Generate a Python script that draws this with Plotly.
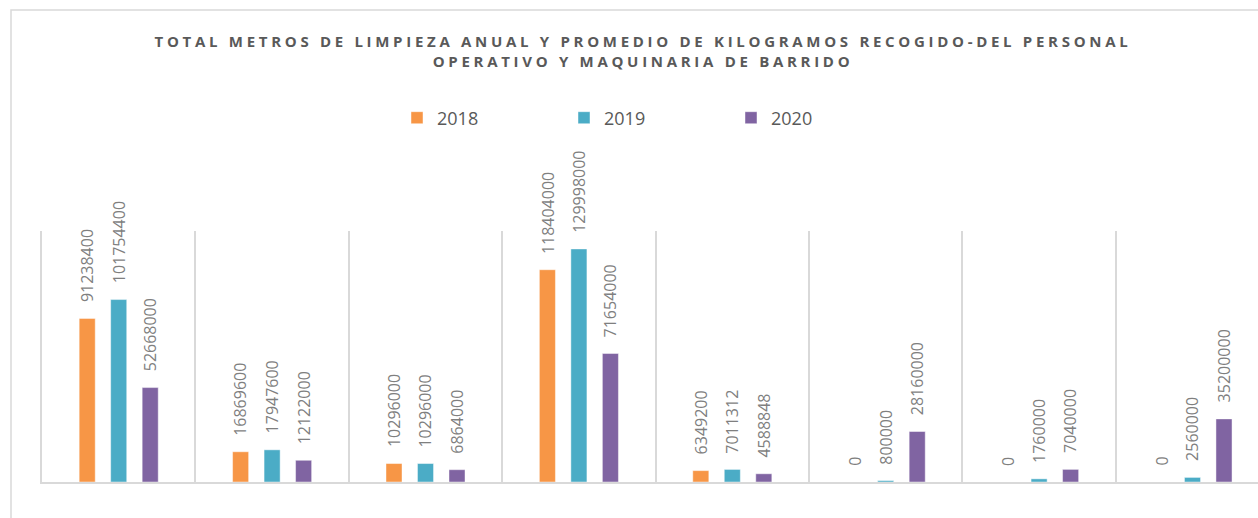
import plotly.graph_objects as go

categories = ["Cat 1", "Cat 2", "Cat 3", "Cat 4", "Cat 5", "Cat 6", "Cat 7", "Cat 8"]
series_names = ["2018", "2019", "2020"]
values_2018 = [91238400, 16869600, 10296000, 118404000, 6349200, 0, 0, 0]
values_2019 = [101754400, 17947600, 10296000, 129998000, 7011312, 800000, 1760000, 2560000]
values_2020 = [52668000, 12122000, 6864000, 71654000, 4588848, 28160000, 7040000, 35200000]
colors = ["#F79646", "#4BACC6", "#8064A2"]

title_text = ("TOTAL METROS DE LIMPIEZA ANUAL Y PROMEDIO DE KILOGRAMOS RECOGIDO-DEL PERSONAL"
              "<br>OPERATIVO Y MAQUINARIA DE BARRIDO")

W, H = 1258, 518
ML, MR, MT, MB = 42, 0, 231, 36
plot_w = W - ML - MR
plot_h = H - MT - MB

fig = go.Figure()
all_vals = [values_2018, values_2019, values_2020]
for name, vals, col in zip(series_names, all_vals, colors):
    fig.add_trace(go.Bar(
        x=categories, y=vals, name=name,
        marker=dict(color=col, line=dict(color="rgba(255,255,255,0.45)", width=1)),
    ))

annotations = []
offsets = [-31.5, 0, 31.5]
for s, vals in enumerate(all_vals):
    for c, v in zip(categories, vals):
        annotations.append(dict(
            x=c, y=v, xref="x", yref="y", text=str(v), showarrow=False,
            textangle=-90, xanchor="center", yanchor="bottom",
            xshift=offsets[s], yshift=14,
            font=dict(family="Open Sans", size=16, color="#7f7f7f"),
        ))

fig.update_layout(
    width=W, height=H,
    margin=dict(l=ML, r=MR, t=MT, b=MB, pad=0),
    paper_bgcolor="white", plot_bgcolor="white",
    barmode="group", bargap=0.384, bargroupgap=0.49,
    title=dict(text=title_text, x=643 / W, xanchor="center", xref="container",
               y=1 - 47 / H, yanchor="top", yref="container",
               font=dict(family="Open Sans", size=15, color="#595959", weight="bold")),
    legend=dict(orientation="h", x=(397 - ML) / plot_w, xanchor="left",
                y=(482 - 118) / plot_h, yanchor="middle",
                entrywidth=122, entrywidthmode="pixels",
                font=dict(family="Open Sans", size=18, color="#595959"),
                bgcolor="rgba(0,0,0,0)"),
    xaxis=dict(type="category", range=[-0.5, 7.427], tickson="boundaries",
               showgrid=True, gridcolor="#d9d9d9", gridwidth=2,
               showticklabels=False, ticks="", showline=True,
               linecolor="#d9d9d9", linewidth=2, zeroline=False),
    yaxis=dict(range=[0, 140e6], showgrid=False, showticklabels=False,
               ticks="", zeroline=False, showline=True,
               linecolor="#d9d9d9", linewidth=2),
    annotations=annotations,
    shapes=[dict(type="rect", xref="paper", yref="paper",
                 x0=(11 - ML) / plot_w, x1=1.02,
                 y0=(482 - 525) / plot_h, y1=(482 - 10) / plot_h,
                 line=dict(color="#d9d9d9", width=1.5), fillcolor="rgba(0,0,0,0)",
                 layer="below")],
    showlegend=True,
)

post = ("document.body.style.margin='0';"
        "var gd=document.getElementById('{plot_id}');"
        "gd.querySelectorAll('.gtitle').forEach(function(e){e.style.letterSpacing='3.7px';});")
fig.write_html("out.html", post_script=post, config={"displayModeBar": False})
